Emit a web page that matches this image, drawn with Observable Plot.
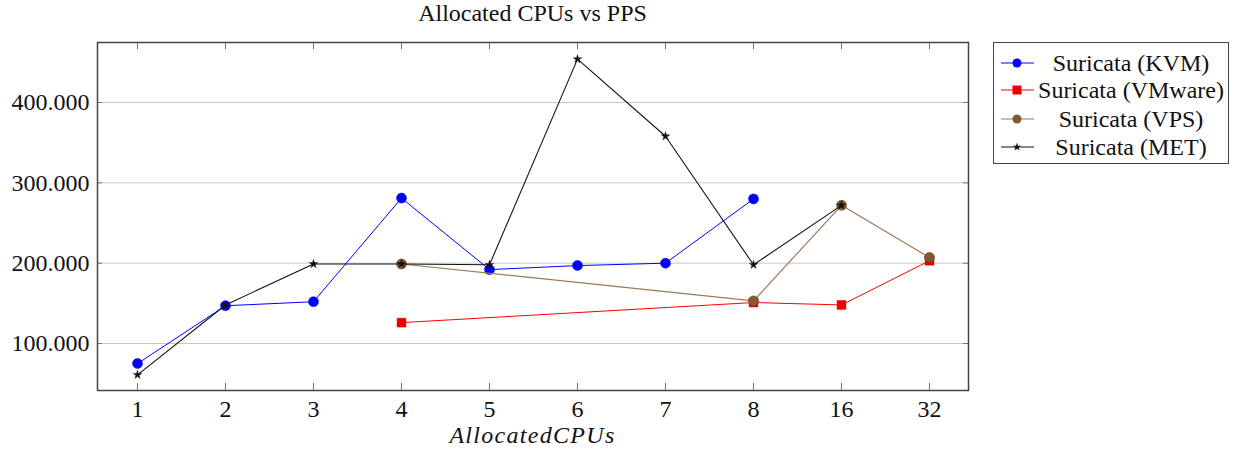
<!DOCTYPE html>
<html>
<head>
<meta charset="utf-8">
<script src="https://cdn.jsdelivr.net/npm/d3@7"></script>
<script src="https://cdn.jsdelivr.net/npm/@observablehq/plot@0.6"></script>
<style>
  html, body { margin: 0; padding: 0; background: #fff; }
  #wrap { position: relative; width: 1236px; height: 450px; font-family: 'Liberation Serif', 'Times New Roman', 'DejaVu Serif', serif; color: #111; }
  #chart { position: absolute; left: 0; top: 0; }
  #title { position: absolute; left: 97px; width: 871px; top: 0px; text-align: center; font-size: 24px; white-space: nowrap; }
  #xlabel { position: absolute; left: 97px; width: 871px; top: 422px; text-align: center; font-size: 24px; font-style: italic; letter-spacing: 1.3px; white-space: nowrap; }
  #legend { position: absolute; left: 993px; top: 42px; width: 234px; height: 120px; border: 1.5px solid #444; background: #fff; }
  .row { position: absolute; left: 0; width: 234px; height: 28px; }
  .row svg { position: absolute; left: 6px; top: 4px; }
  .row span { position: absolute; left: 40px; right: 0; text-align: center; font-size: 24px; line-height: 28px; top: 0; white-space: nowrap; }
</style>
</head>
<body>
<div id="wrap">
  <div id="chart"></div>
  <div id="title">Allocated CPUs vs PPS</div>
  <div id="xlabel">AllocatedCPUs</div>
  <div id="legend"></div>
</div>
<script>
// Categories (x axis)
const cpus = ["1", "2", "3", "4", "5", "6", "7", "8", "16", "32"];
const yTicks = [100000, 200000, 300000, 400000];

// Series
const kvmCpus = ["1", "2", "3", "4", "5", "6", "7", "8"];
const kvmPps = [75000, 147000, 152000, 281000, 192000, 197000, 200000, 280000];

const vmwareCpus = ["4", "8", "16", "32"];
const vmwarePps = [126000, 151000, 148000, 203000];

const vpsCpus = ["4", "8", "16", "32"];
const vpsPps = [199000, 153000, 272000, 207000];

const metCpus = ["1", "2", "3", "4", "5", "6", "7", "8", "16"];
const metPps = [61000, 148000, 199000, 199000, 198000, 454000, 358000, 198000, 272000];

const seriesNames = ["Suricata (KVM)", "Suricata (VMware)", "Suricata (VPS)", "Suricata (MET)"];

const toRows = (xs, ys) => xs.map((x, i) => ({x, y: ys[i]}));
const kvm = toRows(kvmCpus, kvmPps);
const vmware = toRows(vmwareCpus, vmwarePps);
const vps = toRows(vpsCpus, vpsPps);
const met = toRows(metCpus, metPps);

const W = 1236, H = 450, mL = 97, mR = 268, mT = 42, mB = 60;
const pw = W - mL - mR, ph = H - mT - mB;

const fmt = d => d3.format(",")(d).replace(/,/g, ".");
const serif = "'Liberation Serif', 'Times New Roman', 'DejaVu Serif', serif";

const plot = Plot.plot({
  width: W, height: H,
  marginLeft: mL, marginRight: mR, marginTop: mT, marginBottom: mB,
  style: { fontFamily: serif, background: "white", color: "#111" },
  x: { type: "point", domain: cpus, range: [137, 929], padding: 0 },
  y: { domain: [41500, 474700] },
  marks: [
    Plot.gridY(yTicks, { stroke: "#c8c8c8", strokeOpacity: 1, strokeWidth: 1 }),
    // inward tick marks
    Plot.ruleX(cpus, { x: d => d, insetTop: ph - 7, stroke: "#777", strokeWidth: 1 }),
    Plot.ruleX(cpus, { x: d => d, insetBottom: ph - 7, stroke: "#777", strokeWidth: 1 }),
    Plot.ruleY(yTicks, { y: d => d, insetRight: pw - 5, stroke: "#777", strokeWidth: 1 }),
    Plot.ruleY(yTicks, { y: d => d, insetLeft: pw - 5, stroke: "#777", strokeWidth: 1 }),
    Plot.axisX({ tickSize: 0, tickPadding: 9, fontSize: 24, fontFamily: serif, label: null }),
    Plot.axisY(yTicks, { tickSize: 0, tickPadding: 8, fontSize: 24, fontFamily: serif, tickFormat: fmt, label: null }),
    // KVM
    Plot.line(kvm, { x: "x", y: "y", stroke: "#0000ff", strokeWidth: 1 }),
    Plot.dot(kvm, { x: "x", y: "y", r: 5, symbol: "circle", fill: "#0000ff", stroke: "#0000cc", strokeWidth: 0.5 }),
    // VMware
    Plot.line(vmware, { x: "x", y: "y", stroke: "#ff0000", strokeWidth: 1 }),
    Plot.dot(vmware, { x: "x", y: "y", r: 5, symbol: "square", fill: "#ee0000", stroke: "#cc0000", strokeWidth: 0.5 }),
    // VPS
    Plot.line(vps, { x: "x", y: "y", stroke: "#9c7a58", strokeWidth: 1.2 }),
    Plot.dot(vps, { x: "x", y: "y", r: 5, symbol: "circle", fill: "#85592f", stroke: "#5e3e1e", strokeWidth: 0.6 }),
    // MET
    Plot.line(met, { x: "x", y: "y", stroke: "#111", strokeWidth: 1.1 }),
    Plot.dot(met, { x: "x", y: "y", r: 2.7, symbol: "star", fill: "#111", stroke: "#111", strokeWidth: 0.4 }),
    Plot.frame({ stroke: "#444", strokeWidth: 1.5 })
  ]
});
document.getElementById("chart").appendChild(plot);

// Legend
const legendStyles = [
  { color: "#0000ff", fill: "#0000ff", shape: "circle" },
  { color: "#ff0000", fill: "#ee0000", shape: "square" },
  { color: "#9c7a58", fill: "#85592f", shape: "circle" },
  { color: "#111", fill: "#111", shape: "star" }
];
const legend = document.getElementById("legend");
const rowTops = [6, 33, 62, 90];
seriesNames.forEach((name, i) => {
  const st = legendStyles[i];
  const row = document.createElement("div");
  row.className = "row";
  row.style.top = rowTops[i] + "px";
  let marker;
  if (st.shape === "circle") marker = `<circle cx="17" cy="10" r="4.5" fill="${st.fill}"/>`;
  else if (st.shape === "square") marker = `<rect x="12.5" y="5.5" width="9" height="9" fill="${st.fill}"/>`;
  else marker = `<path transform="translate(17,10)" d="${d3.symbol(d3.symbolStar, 22)()}" fill="${st.fill}"/>`;
  row.innerHTML = `<svg width="36" height="20"><line x1="1" x2="34" y1="10" y2="10" stroke="${st.color}" stroke-width="1.2"/>${marker}</svg><span>${name}</span>`;
  legend.appendChild(row);
});
</script>
</body>
</html>
